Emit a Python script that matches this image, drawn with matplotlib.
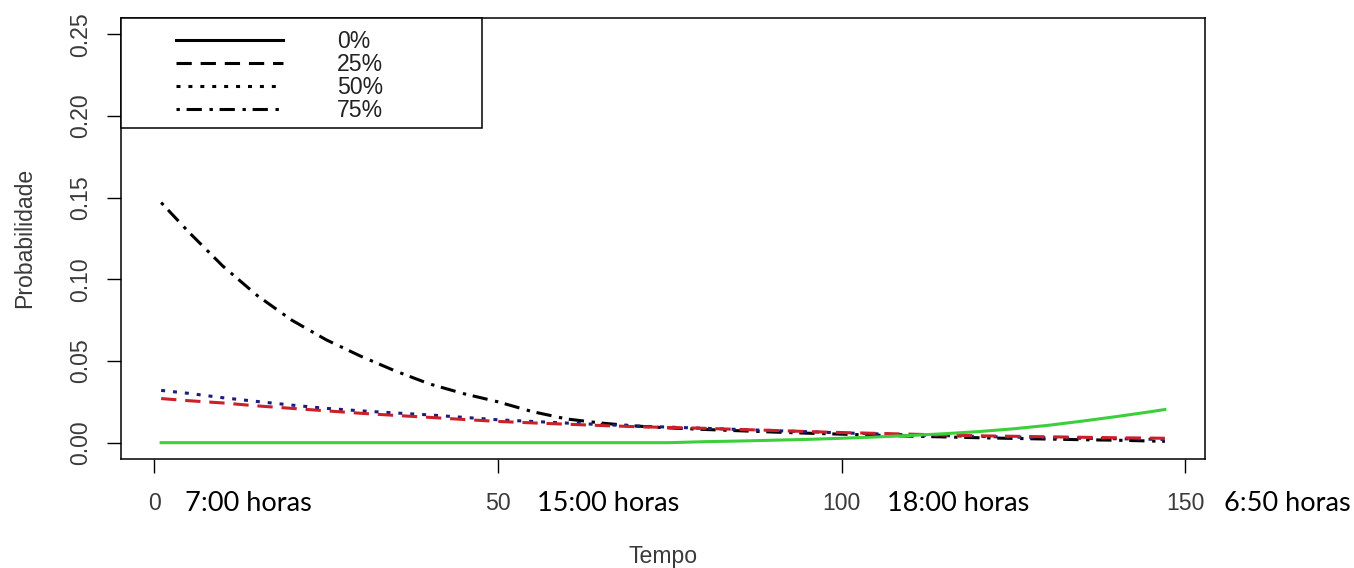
import numpy as np
import matplotlib
matplotlib.use("Agg")
import matplotlib.pyplot as plt
from matplotlib.patches import Rectangle

plt.rcParams['font.family'] = ['Liberation Sans', 'DejaVu Sans']

# data
tempo = [1, 5, 10, 15, 20, 25, 30, 35, 40, 45, 50, 55, 60, 65, 70, 75,
         80, 85, 90, 95, 100, 105, 110, 115, 120, 125, 130, 135, 140, 145, 147]
p0 = [0.0, 0.0, 0.0, 0.0, 0.0, 0.0, 0.0, 0.0, 0.0, 0.0, 0.0, 0.0, 0.0,
      0.0, 0.0, 0.0, 0.0006, 0.001, 0.0015, 0.002, 0.0027, 0.0035, 0.0044,
      0.0055, 0.0068, 0.0085, 0.0106, 0.0132, 0.0160, 0.0190, 0.0203]
p25 = [0.027, 0.0257, 0.0243, 0.0225, 0.021, 0.0195, 0.018, 0.0167, 0.0155,
       0.0142, 0.013, 0.0121, 0.0113, 0.0105, 0.0098, 0.0093, 0.0088, 0.0081,
       0.0075, 0.0068, 0.0062, 0.0057, 0.0052, 0.0047, 0.0042, 0.0039,
       0.0036, 0.0033, 0.0030, 0.0028, 0.0027]
p50 = [0.032, 0.0302, 0.0275, 0.0252, 0.023, 0.021, 0.0195, 0.0182, 0.017,
       0.0155, 0.014, 0.013, 0.012, 0.0111, 0.0102, 0.0095, 0.0088, 0.0081,
       0.0074, 0.0067, 0.006, 0.0054, 0.0048, 0.0043, 0.0038, 0.0034, 0.003,
       0.0027, 0.0024, 0.0021, 0.002]
p75 = [0.147, 0.129, 0.108, 0.090, 0.075, 0.063, 0.053, 0.044, 0.036, 0.030,
       0.025, 0.019, 0.0145, 0.012, 0.0102, 0.009, 0.0081, 0.0073, 0.0065,
       0.0058, 0.0052, 0.0046, 0.0040, 0.0035, 0.0030, 0.0026, 0.0022,
       0.0018, 0.0015, 0.0010, 0.0008]
legend_labels = ["0%", "25%", "50%", "75%"]
xticks = [0, 50, 100, 150]
yticks = [0.00, 0.05, 0.10, 0.15, 0.20, 0.25]
horas = ["7:00 horas", "15:00 horas", "18:00 horas", "6:50 horas"]

W, H = 1354, 568
fs = 16.6
fig = plt.figure(figsize=(W / 100, H / 100), dpi=100)
ax = fig.add_axes([121 / W, 1 - 459 / H, 1084 / W, 441 / H])

lw = 2.2
ax.plot(tempo, p75, color='black', lw=lw, dashes=(1.1, 2.2, 5, 2.5))
ax.plot(tempo, p50, color='#1c1c7a', lw=lw, dashes=(1.3, 2.6))
ax.plot(tempo, p25, color='#cc1f2a', lw=lw, dashes=(5, 2.9))
ax.plot(tempo, p0, color='#3ccf3c', lw=lw)

# R style limits (4% extension)
ax.set_xlim(-4.84, 152.84)
ax.set_ylim(-0.01, 0.26)
ax.set_xticks(xticks)
ax.set_xticklabels([str(v) for v in xticks])
ax.set_yticks(yticks)
ax.set_yticklabels(["%.2f" % v for v in yticks], rotation=90, va='center')
ax.tick_params(axis='both', direction='out', length=10, width=1,
               labelsize=fs, labelcolor='#3a3a3a')
ax.tick_params(axis='x', pad=14)
ax.tick_params(axis='y', pad=11)
for s in ax.spines.values():
    s.set_linewidth(1.1)

# hour labels next to tick labels
offs = [31, 39, 45, 39]
for xv, txt, o in zip(xticks, horas, offs):
    ax.annotate(txt, xy=(xv, 0), xycoords=('data', 'axes fraction'),
                xytext=(o * 0.72, -37.2), textcoords='offset points',
                ha='left', va='baseline', fontsize=19.5, family='Lato',
                color='black', annotation_clip=False)

fig.text(663.5 / W, 1 - 557 / H, "Tempo", ha='center',
         va='center', fontsize=fs, color='#3a3a3a')
fig.text(25 / W, 1 - 238 / H, "Probabilidade", ha='center', va='center',
         rotation=90, fontsize=fs, color='#3a3a3a')

# legend, R style box in top left corner
ax.add_patch(Rectangle((0, 1 - 110 / 441), 361 / 1084, 110 / 441,
                       transform=ax.transAxes, fill=True, facecolor='white',
                       edgecolor='black', lw=1.1, zorder=3, clip_on=False))
h = [plt.Line2D([], [], color='black', lw=lw),
     plt.Line2D([], [], color='black', lw=lw, dashes=(5, 2.9)),
     plt.Line2D([], [], color='black', lw=lw, dashes=(1.3, 2.6)),
     plt.Line2D([], [], color='black', lw=lw, dashes=(1.1, 2.2, 5, 2.5))]
leg = ax.legend(h, legend_labels, loc='upper left',
                bbox_to_anchor=(55 / 1084, 1 - 12 / 441), frameon=False,
                borderpad=0, borderaxespad=0, labelspacing=0.0,
                handlelength=107 / (fs * 100 / 72), handletextpad=2.35,
                fontsize=fs)
leg.set_zorder(4)
for t in leg.get_texts():
    t.set_color('#222222')

fig.savefig("out.png", dpi=100)
